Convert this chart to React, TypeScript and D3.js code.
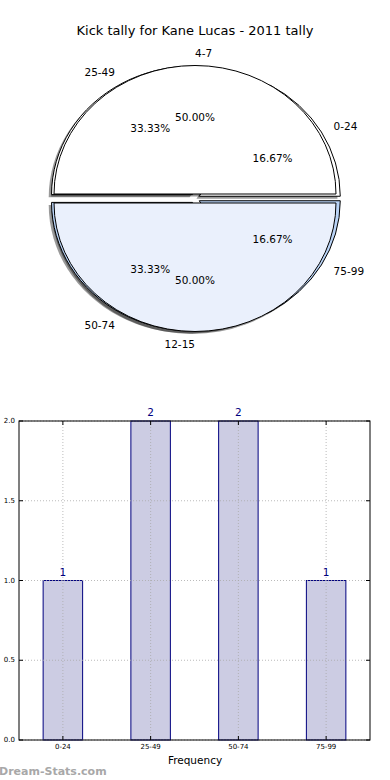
import * as d3 from "d3";

// outer ring: score bands
const bandLabels = ["0-24", "25-49", "50-74", "75-99"];
const bandCounts = [1, 2, 2, 1];
const bandColors = ["#ffffff", "#ffffff", "#b9d3f6", "#b9d3f6"];

// inner pie: kick ranges
const rangeLabels = ["4-7", "12-15"];
const rangeCounts = [1, 1];
const rangeColors = ["#ffffff", "#eaf0fc"];

const yTicks = [0, 0.5, 1, 1.5, 2];

const W = 390;
const H = 780;
const font = "DejaVu Sans, sans-serif";

function Pie({ labels, counts, colors, cx, cy, rx, ry, explode, part }) {
  const pie = d3.pie().sort(null).startAngle(Math.PI / 2).endAngle(Math.PI / 2 - 2 * Math.PI);
  const arc = d3.arc().innerRadius(0).outerRadius(1);
  const total = d3.sum(counts);
  const slices = pie(counts).map((d, i) => {
    const m = (d.startAngle + d.endAngle) / 2;
    const sx = Math.sin(m);
    const sy = -Math.cos(m);
    const ox = cx + explode * rx * sx;
    const oy = cy + explode * ry * sy;
    return { d, i, sx, sy, ox, oy };
  });

  if (part === "shadow") {
    return (
      <g>
        {slices.map(s => (
          <path key={s.i} d={arc(s.d)} fill="#000" fillOpacity={0.4}
            transform={`translate(${s.ox - 0.02 * rx},${s.oy + 0.02 * ry}) scale(${rx},${ry})`} />
        ))}
      </g>
    );
  }
  if (part === "text") {
    return (
      <g fontFamily={font} fontSize={10.5} fill="#000">
        {slices.map(s => (
          <g key={s.i}>
            <text x={s.ox + 1.1 * rx * s.sx} y={s.oy + 1.1 * ry * s.sy}
              textAnchor={s.sx > 1e-9 || Math.abs(s.sx) < 1e-9 && s.sy < 0 ? "start" : "end"}
              dominantBaseline="central">{labels[s.i]}</text>
            <text x={s.ox + 0.6 * rx * s.sx} y={s.oy + 0.6 * ry * s.sy}
              textAnchor="middle" dominantBaseline="central">
              {((counts[s.i] / total) * 100).toFixed(2)}%
            </text>
          </g>
        ))}
      </g>
    );
  }
  return (
    <g>
      {slices.map(s => (
        <path key={s.i} d={arc(s.d)} fill={colors[s.i]} stroke="#000" strokeWidth={1}
          vectorEffect="non-scaling-stroke" strokeLinejoin="round"
          transform={`translate(${s.ox},${s.oy}) scale(${rx},${ry})`} />
      ))}
    </g>
  );
}

export default function App() {
  const cx = 195;
  const cy = 198.5;
  const rx = 141;
  const ry = 128.5;
  const expl = 0.035;

  const left = 19;
  const right = 370;
  const top = 421;
  const bottom = 740;

  const x = d3.scaleLinear().domain([-0.5, bandLabels.length - 0.5]).range([left, right]);
  const y = d3.scaleLinear().domain([0, 2]).range([bottom, top]);
  const barW = x(0.45) - x(0);

  const outer = { labels: bandLabels, counts: bandCounts, colors: bandColors, cx, cy, rx, ry, explode: expl };
  const inner = { labels: rangeLabels, counts: rangeCounts, colors: rangeColors, cx, cy, rx, ry, explode: expl };

  return (
    <svg width={W} height={H} style={{ position: "absolute", left: 0, top: 0, background: "#fff" }}>
      <rect width={W} height={H} fill="#fff" />
      <text x={195} y={30} textAnchor="middle" dominantBaseline="central" fontFamily={font} fontSize={13}>
        Kick tally for Kane Lucas - 2011 tally
      </text>

      <Pie {...outer} part="shadow" />
      <Pie {...inner} part="shadow" />
      <Pie {...outer} part="wedge" />
      <Pie {...inner} part="wedge" />
      <Pie {...outer} part="text" />
      <Pie {...inner} part="text" />

      {/* bar chart */}
      <g>
        {bandCounts.map((v, i) => (
          <rect key={i} x={x(i) - barW / 2} y={y(v)} width={barW} height={y(0) - y(v)}
            fill="#ccccE3" stroke="#00007f" strokeWidth={1} />
        ))}
        {yTicks.map(t => (
          <line key={"gy" + t} x1={left} x2={right} y1={y(t)} y2={y(t)} stroke="#aaa" strokeWidth={0.8} strokeDasharray="1,2" />
        ))}
        {bandLabels.map((l, i) => (
          <line key={"gx" + i} x1={x(i)} x2={x(i)} y1={top} y2={bottom} stroke="#aaa" strokeWidth={0.8} strokeDasharray="1,2" />
        ))}
        <rect x={left} y={top} width={right - left} height={bottom - top} fill="none" stroke="#000" strokeWidth={1} />
        {yTicks.map(t => (
          <g key={"ty" + t}>
            <line x1={left} x2={left + 4} y1={y(t)} y2={y(t)} stroke="#000" />
            <line x1={right} x2={right - 4} y1={y(t)} y2={y(t)} stroke="#000" />
            <text x={left - 4} y={y(t)} textAnchor="end" dominantBaseline="central" fontFamily={font} fontSize={7}>
              {t.toFixed(1)}
            </text>
          </g>
        ))}
        {bandLabels.map((l, i) => (
          <g key={"tx" + i}>
            <line x1={x(i)} x2={x(i)} y1={bottom} y2={bottom - 4} stroke="#000" />
            <line x1={x(i)} x2={x(i)} y1={top} y2={top + 4} stroke="#000" />
            <text x={x(i)} y={bottom + 7} textAnchor="middle" dominantBaseline="central" fontFamily={font} fontSize={7}>
              {l}
            </text>
          </g>
        ))}
        {bandCounts.map((v, i) => (
          <text key={"v" + i} x={x(i)} y={y(v) - 9} textAnchor="middle" dominantBaseline="central"
            fontFamily={font} fontSize={10.5} fill="#00007f">{v}</text>
        ))}
        <text x={195} y={760} textAnchor="middle" dominantBaseline="central" fontFamily={font} fontSize={10.5}>
          Frequency
        </text>
      </g>
      <text x={-1} y={771} dominantBaseline="central" fontFamily={font} fontSize={11} fontWeight="bold" fill="#a8a8a8">
        Dream-Stats.com
      </text>
    </svg>
  );
}
